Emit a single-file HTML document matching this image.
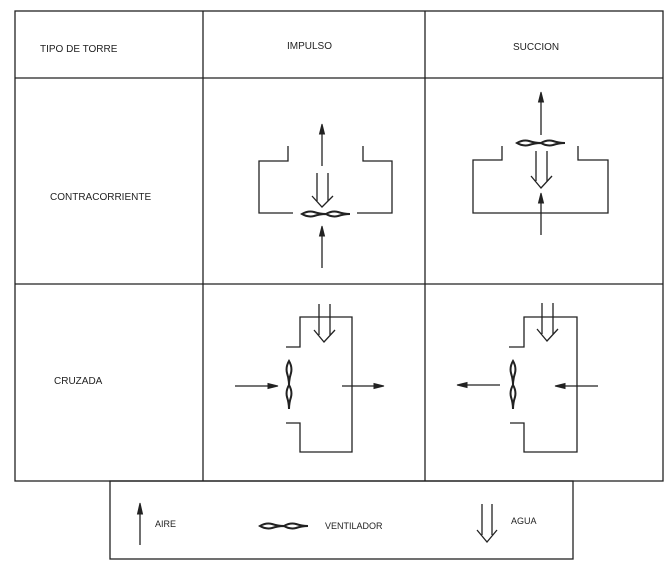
<!DOCTYPE html>
<html><head><meta charset="utf-8"><style>
html,body{margin:0;padding:0;background:#fff;}
svg{display:block}
text{font-family:"Liberation Sans",sans-serif;font-size:10px;fill:#222;}
</style></head><body>
<svg width="671" height="576" viewBox="0 0 671 576" xmlns="http://www.w3.org/2000/svg">
<defs>
<g id="fanh"><path d="M0,0 Q6,-3.5 12,-2 Q18,0 24,0 Q18,0 12,2 Q6,3.5 0,0Z M24,0 Q30,-3.5 36,-2 Q42,0 48,0 Q42,0 36,2 Q30,3.5 24,0Z" fill="none" stroke="#222" stroke-width="2"/></g>
</defs>
<g fill="none" stroke="#222" stroke-width="1.3">
<rect x="15" y="11" width="648" height="470"/>
<line x1="15" y1="78" x2="663" y2="78"/>
<line x1="15" y1="284" x2="663" y2="284"/>
<line x1="203" y1="11" x2="203" y2="481"/>
<line x1="425" y1="11" x2="425" y2="481"/>
<rect x="110" y="481" width="463" height="78"/>
</g>
<text x="40" y="52">TIPO DE TORRE</text>
<text x="287" y="49">IMPULSO</text>
<text x="513" y="50">SUCCION</text>
<text x="50" y="200">CONTRACORRIENTE</text>
<text x="54" y="384">CRUZADA</text>

<g fill="none" stroke="#222" stroke-width="1.3">
<path d="M293,213 H259 V161 H288 V146"/>
<path d="M357,213 H392 V161 H363 V146"/>
<line x1="322" y1="166" x2="322" y2="130"/>
<line x1="322" y1="268" x2="322" y2="232"/>
<line x1="317" y1="173" x2="317" y2="201"/><line x1="328" y1="173" x2="328" y2="201"/>
<path d="M312,196 L322,207 L333,196"/>
<path d="M502,146 V160 H473 V213 H608 V160 H578 V146"/>
<line x1="541" y1="135" x2="541" y2="99"/>
<line x1="541" y1="235" x2="541" y2="200"/>
<line x1="536" y1="151" x2="536" y2="181"/><line x1="547" y1="151" x2="547" y2="181"/>
<path d="M531,176 L541,188 L552,176"/>
<path d="M286,347 H300 V317 H352 V452 H300 V423 H286"/>
<line x1="319" y1="304" x2="319" y2="335"/><line x1="330" y1="304" x2="330" y2="335"/>
<path d="M314,330 L324,342 L335,330"/>
<line x1="235" y1="386" x2="272" y2="386"/>
<line x1="342" y1="386" x2="378" y2="386"/>
<path d="M509,347 H524 V317 H577 V452 H524 V423 H510"/>
<line x1="542" y1="303" x2="542" y2="334"/><line x1="553" y1="303" x2="553" y2="334"/>
<path d="M537,329 L547,341 L558,329"/>
<line x1="500" y1="385" x2="462" y2="385"/>
<line x1="598" y1="386" x2="560" y2="386"/>
<line x1="140" y1="545" x2="140" y2="510"/>
<line x1="482" y1="504" x2="482" y2="535"/><line x1="492" y1="504" x2="492" y2="535"/>
<path d="M477,530 L487,542 L497,530"/>
</g>
<g fill="#222" stroke="#222" stroke-width="1">
<path d="M322,124 L319.5,134 L324.5,134Z"/>
<path d="M322,226 L319.5,236 L324.5,236Z"/>
<path d="M541,92 L538.5,102 L543.5,102Z"/>
<path d="M541,193 L538.5,203 L543.5,203Z"/>
<path d="M278,386 L268,383.5 L268,388.5Z"/>
<path d="M384,386 L374,383.5 L374,388.5Z"/>
<path d="M457,385 L467,382.5 L467,387.5Z"/>
<path d="M555,386 L565,383.5 L565,388.5Z"/>
<path d="M140,503 L137.5,514 L142.5,514Z"/>
</g>
<use href="#fanh" x="302" y="214"/>
<use href="#fanh" x="517" y="143"/>
<use href="#fanh" x="260" y="526"/>
<use href="#fanh" transform="translate(289,361) rotate(90)"/>
<use href="#fanh" transform="translate(513,361) rotate(90)"/>
<text x="155" y="527" style="font-size:9px">AIRE</text>
<text x="325" y="529" style="font-size:9px">VENTILADOR</text>
<text x="511" y="524" style="font-size:9px">AGUA</text>
</svg>
</body></html>
